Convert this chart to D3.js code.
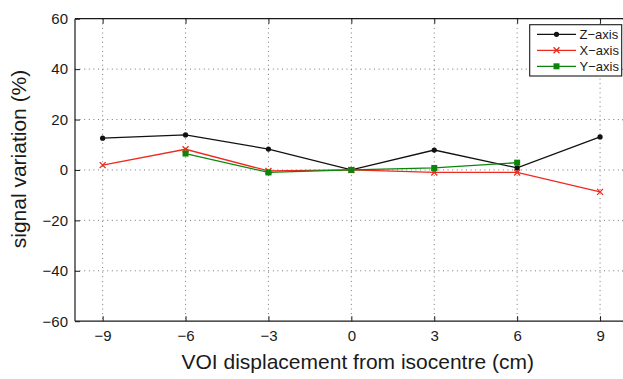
<!DOCTYPE html>
<html>
<head>
<meta charset="utf-8">
<script src="https://cdn.jsdelivr.net/npm/d3@7"></script>
<style>
  html, body { margin: 0; padding: 0; background: #fff; }
  svg { display: block; font-family: "Liberation Sans", Arial, Helvetica, sans-serif; }
</style>
</head>
<body>
<svg id="chart" width="623" height="379"></svg>
<script>
// Displacement of the VOI from the isocentre (cm)
const displacement = [-9, -6, -3, 0, 3, 6, 9];
// Signal variation (%) per displacement axis; null where no measurement exists
const zAxis = [12.6, 13.9, 8.3, 0, 7.9, 0.8, 13.1];
const xAxis = [1.9, 8.2, -0.4, 0, -1.0, -1.0, -8.7];
const yAxis = [null, 6.5, -1.0, 0, 0.8, 2.9, null];
const xTicks = [-9, -6, -3, 0, 3, 6, 9];
const yTicks = [-60, -40, -20, 0, 20, 40, 60];
const seriesNames = ["Z\u2212axis", "X\u2212axis", "Y\u2212axis"];

const svg = d3.select("#chart");
const plotLeft = 75, plotRight = 627.7, plotTop = 18.7, plotBottom = 321.2;

const x = d3.scaleLinear().domain([-10, 10]).range([plotLeft, plotRight]);
const y = d3.scaleLinear().domain([-60, 60]).range([plotBottom, plotTop]);

const fmt = d => (d < 0 ? "\u2212" + Math.abs(d) : String(d));

// dotted grid
const grid = svg.append("g").attr("stroke", "#555").attr("stroke-width", 0.8)
  .attr("stroke-dasharray", "1,3.6");
grid.selectAll(".vg").data(xTicks).join("line")
  .attr("x1", d => x(d)).attr("x2", d => x(d))
  .attr("y1", plotTop).attr("y2", plotBottom);
grid.selectAll(".hg").data(yTicks.filter(d => d > -60 && d < 60)).join("line")
  .attr("x1", plotLeft).attr("x2", plotRight)
  .attr("y1", d => y(d)).attr("y2", d => y(d));

// axes with inward ticks
const axisB = d3.axisBottom(x).tickValues(xTicks).tickSize(-5).tickPadding(9).tickFormat(fmt);
const axisT = d3.axisTop(x).tickValues(xTicks).tickSize(-5).tickFormat("");
const axisL = d3.axisLeft(y).tickValues(yTicks).tickSize(-5).tickPadding(7).tickFormat(fmt);
const axisR = d3.axisRight(y).tickValues(yTicks).tickSize(-5).tickFormat("");

function style(g) {
  g.select(".domain").attr("stroke", "#1a1a1a").attr("stroke-width", 1.2);
  g.selectAll(".tick line").attr("stroke", "#1a1a1a").attr("stroke-width", 1);
  g.selectAll(".tick text").attr("fill", "#1a1a1a").attr("font-size", 15)
    .attr("font-family", "\"Liberation Sans\", Arial, sans-serif");
}
svg.append("g").attr("transform", `translate(0,${plotBottom})`).call(axisB).call(style)
  .call(g => g.select(".domain").attr("d", `M${plotLeft},0H${plotRight}`));
svg.append("g").attr("transform", `translate(0,${plotTop})`).call(axisT).call(style)
  .call(g => g.select(".domain").attr("d", `M${plotLeft},0H${plotRight}`));
svg.append("g").attr("transform", `translate(${plotLeft},0)`).call(axisL).call(style)
  .call(g => g.select(".domain").attr("d", `M0,${plotBottom}V${plotTop}`));
svg.append("g").attr("transform", `translate(${plotRight},0)`).call(axisR).call(style)
  .call(g => g.select(".domain").attr("d", `M0,${plotBottom}V${plotTop}`));

// axis titles
svg.append("text")
  .attr("x", 357.7).attr("y", 369)
  .attr("text-anchor", "middle").attr("font-size", 21).attr("fill", "#1a1a1a")
  .text("VOI displacement from isocentre (cm)");
svg.append("text")
  .attr("transform", "translate(26,159) rotate(-90)")
  .attr("text-anchor", "middle").attr("font-size", 21).attr("fill", "#1a1a1a")
  .text("signal variation (%)");

// series
const series = [
  { name: seriesNames[0], values: zAxis, color: "#111111", marker: "dot" },
  { name: seriesNames[1], values: xAxis, color: "#ee2a1e", marker: "cross" },
  { name: seriesNames[2], values: yAxis, color: "#0c850c", marker: "square" }
];

function drawMarker(g, type, color) {
  if (type === "dot") {
    g.append("circle").attr("r", 2.6).attr("fill", color);
  } else if (type === "cross") {
    g.append("path").attr("d", "M-3,-3L3,3M-3,3L3,-3")
      .attr("stroke", color).attr("stroke-width", 1.3).attr("fill", "none");
  } else {
    g.append("rect").attr("x", -3).attr("y", -3).attr("width", 6).attr("height", 6)
      .attr("fill", color);
  }
}

const line = d3.line()
  .defined(d => d.v !== null)
  .x(d => x(d.x)).y(d => y(d.v));

series.forEach(s => {
  const pts = displacement.map((dx, i) => ({ x: dx, v: s.values[i] }));
  svg.append("path").datum(pts)
    .attr("d", line).attr("fill", "none")
    .attr("stroke", s.color).attr("stroke-width", 1.3);
  pts.filter(p => p.v !== null).forEach(p => {
    const g = svg.append("g").attr("transform", `translate(${x(p.x)},${y(p.v)})`);
    drawMarker(g, s.marker, s.color);
  });
});

// legend
const lg = svg.append("g");
lg.append("rect").attr("x", 529.7).attr("y", 24.7).attr("width", 92).attr("height", 51.3)
  .attr("fill", "#fff").attr("stroke", "#1a1a1a").attr("stroke-width", 1.1);
series.forEach((s, i) => {
  const yy = 34.3 + i * 16;
  lg.append("line").attr("x1", 537).attr("x2", 576).attr("y1", yy).attr("y2", yy)
    .attr("stroke", s.color).attr("stroke-width", 1.3);
  const g = lg.append("g").attr("transform", `translate(556.5,${yy})`);
  drawMarker(g, s.marker, s.color);
  lg.append("text").attr("x", 579.5).attr("y", yy + 4.6)
    .attr("font-size", 13).attr("fill", "#1a1a1a").text(s.name);
});
</script>
</body>
</html>
